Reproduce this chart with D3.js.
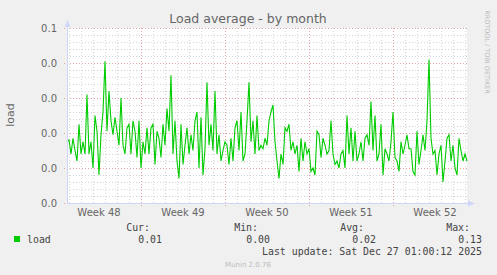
<!DOCTYPE html>
<html>
<head>
<meta charset="utf-8">
<script src="https://cdn.jsdelivr.net/npm/d3@7"></script>
<style>
body { margin: 0; background: #F0F0F0; }
text { font-family: "DejaVu Sans", sans-serif; }
.mono { font-family: "DejaVu Sans Mono", monospace; }
</style>
</head>
<body>
<div id="viz"></div>
<script>
// load samples, one every 4 hours
var loadValues = [
 0.035,0.036,0.028,0.037,0.030,0.024,0.045,0.028,0.035,0.028,0.062,0.028,0.035,0.020,0.050,0.041,0.016,0.039,0.052,0.081,
 0.041,0.064,0.047,0.039,0.049,0.041,0.033,0.060,0.033,0.028,0.043,0.045,0.028,0.047,0.041,0.026,0.047,0.020,0.035,0.028,
 0.043,0.028,0.043,0.045,0.022,0.041,0.037,0.026,0.045,0.033,
 0.054,0.041,0.073,0.028,0.047,0.024,0.014,0.045,0.022,0.033,0.043,0.028,0.039,0.030,0.047,0.052,0.020,0.049,0.016,0.031,
 0.069,0.033,0.045,0.030,0.064,0.028,0.039,0.024,0.030,0.035,0.033,0.022,0.037,0.024,0.043,0.047,0.030,0.052,0.024,0.028,
 0.047,0.069,0.035,0.047,0.028,0.050,0.030,0.033,0.031,0.037,
 0.033,0.047,0.052,0.056,0.035,0.024,0.014,0.028,0.022,0.043,0.041,0.045,0.030,0.035,0.028,0.033,0.018,0.037,0.024,0.035,
 0.028,0.031,0.018,0.020,0.016,0.041,0.039,0.026,0.037,0.033,0.028,0.030,0.047,0.028,0.022,0.024,0.020,0.028,0.030,0.020,
 0.050,0.028,0.043,0.024,0.041,0.024,0.028,0.035,0.024,0.037,
 0.039,0.033,0.058,0.030,0.050,0.024,0.028,0.045,0.016,0.031,0.028,0.024,0.035,0.052,0.026,0.024,0.018,0.035,0.028,0.033,
 0.039,0.031,0.031,0.018,0.016,0.041,0.022,0.030,0.039,0.030,0.047,0.082,0.037,0.028,0.030,0.016,0.028,0.033,0.012,0.024,
 0.037,0.039,0.024,0.033,0.020,0.016,0.037,0.030,0.024,0.028,0.024
];
var yTicks = [0, 0.02, 0.04, 0.06, 0.08, 0.1];
var legendHeads = ["Cur:", "Min:", "Avg:", "Max:"];
var legendValues = ["0.01", "0.00", "0.02", "0.13"];

var width = 497, height = 275;
var plot = {left: 67, right: 467, top: 28, bottom: 203};

var startTime = Date.UTC(2025, 10, 24, 20, 0, 0);
var stepMs = 4 * 3600 * 1000;
var endTime = startTime + 800 * 3600 * 1000;
var halfWeek = 84 * 3600 * 1000;

var svg = d3.select("#viz").append("svg")
    .attr("width", width).attr("height", height);

svg.append("rect").attr("width", width).attr("height", height).attr("fill", "#F0F0F0");

var x = d3.scaleUtc().domain([new Date(startTime), new Date(endTime)]).range([plot.left, plot.right]);
var y = d3.scaleLinear().domain([0, 0.1]).range([plot.bottom, plot.top]);

svg.append("rect")
    .attr("x", plot.left).attr("y", plot.top)
    .attr("width", plot.right - plot.left).attr("height", plot.bottom - plot.top)
    .attr("fill", "#FFFFFF");

// minor grid
var days = d3.utcDay.range(x.domain()[0], x.domain()[1]);
svg.append("g").selectAll("line").data(days).enter().append("line")
    .attr("x1", function(d){return Math.round(x(d)) + 0.5}).attr("x2", function(d){return Math.round(x(d)) + 0.5})
    .attr("y1", plot.top).attr("y2", plot.bottom)
    .attr("stroke", "#D6D6D6").attr("stroke-dasharray", "1,2");
var minorY = d3.range(0, 0.1001, 0.004);
svg.append("g").selectAll("line").data(minorY).enter().append("line")
    .attr("x1", plot.left).attr("x2", plot.right)
    .attr("y1", function(d){return Math.round(y(d)) + 0.5}).attr("y2", function(d){return Math.round(y(d)) + 0.5})
    .attr("stroke", "#D6D6D6").attr("stroke-dasharray", "1,2");

// major grid
var weeks = d3.utcMonday.range(x.domain()[0], x.domain()[1]);
svg.append("g").selectAll("line").data(weeks).enter().append("line")
    .attr("x1", function(d){return Math.round(x(d)) + 0.5}).attr("x2", function(d){return Math.round(x(d)) + 0.5})
    .attr("y1", plot.top).attr("y2", plot.bottom + 4)
    .attr("stroke", "#EBA0A0").attr("stroke-dasharray", "1,2");
svg.append("g").selectAll("line").data(yTicks).enter().append("line")
    .attr("x1", plot.left - 3).attr("x2", plot.right)
    .attr("y1", function(d){return Math.round(y(d)) + 0.5}).attr("y2", function(d){return Math.round(y(d)) + 0.5})
    .attr("stroke", "#EBA0A0").attr("stroke-dasharray", "1,2");

// data line
var line = d3.line()
    .x(function(d, i){return x(new Date(startTime + i * stepMs))})
    .y(function(d){return y(d)});
svg.append("path").datum(loadValues)
    .attr("d", line)
    .attr("fill", "none")
    .attr("stroke", "#00CC00")
    .attr("stroke-width", 1.1);

// axes with arrows
svg.append("line").attr("x1", plot.left + 0.5).attr("x2", plot.left + 0.5)
    .attr("y1", plot.bottom).attr("y2", plot.top - 4).attr("stroke", "#CFD6F8");
svg.append("line").attr("x1", plot.left).attr("x2", plot.right + 4)
    .attr("y1", plot.bottom + 0.5).attr("y2", plot.bottom + 0.5).attr("stroke", "#CFD6F8");
svg.append("path").attr("d", "M" + (plot.left - 2.5) + "," + (plot.top - 1) + "L" + (plot.left + 0.5) + "," + (plot.top - 8) + "L" + (plot.left + 3.5) + "," + (plot.top - 1) + "Z")
    .attr("fill", "#CFD6F8");
svg.append("path").attr("d", "M" + (plot.right + 1) + "," + (plot.bottom - 2.5) + "L" + (plot.right + 8) + "," + (plot.bottom + 0.5) + "L" + (plot.right + 1) + "," + (plot.bottom + 3.5) + "Z")
    .attr("fill", "#CFD6F8");

// tick labels (rrdtool truncates to one decimal)
svg.append("g").selectAll("text").data(yTicks).enter().append("text")
    .attr("x", plot.left - 10).attr("y", function(d){return y(d) + 4})
    .attr("text-anchor", "end").attr("font-size", "10px").attr("fill", "#666666")
    .text(function(d){return (Math.floor(d * 10 + 1e-9) / 10).toFixed(1)});
var fmtWeek = d3.utcFormat("%V");
var labelWeeks = d3.utcMonday.range(d3.utcMonday.offset(x.domain()[0], -1), x.domain()[1])
    .filter(function(d){var c = x(new Date(+d + halfWeek)); return c > plot.left && c < plot.right});
svg.append("g").selectAll("text").data(labelWeeks).enter().append("text")
    .attr("x", function(d){return x(new Date(+d + halfWeek))})
    .attr("y", 216).attr("text-anchor", "middle").attr("font-size", "10px").attr("fill", "#666666")
    .text(function(d){return "Week " + fmtWeek(d)});

// titles
svg.append("text").attr("x", 248).attr("y", 23).attr("text-anchor", "middle")
    .attr("font-size", "12.5px").attr("fill", "#666666").text("Load average - by month");
svg.append("text").attr("transform", "translate(14,115) rotate(-90)").attr("text-anchor", "middle")
    .attr("font-size", "11px").attr("fill", "#666666").text("load");
svg.append("text").attr("transform", "translate(485,52) rotate(90)").attr("text-anchor", "middle")
    .attr("font-size", "6.5px").attr("fill", "#BBBBBB").text("RRDTOOL / TOBI OETIKER");

// legend
svg.append("rect").attr("x", 14).attr("y", 236).attr("width", 6).attr("height", 6).attr("fill", "#00CC00");
svg.append("text").attr("class", "mono").attr("x", 27).attr("y", 243)
    .attr("font-size", "9.9px").attr("fill", "#444444").text("load");
var legendX = [150, 258, 364, 470];
svg.append("g").selectAll("text").data(legendHeads).enter().append("text")
    .attr("class", "mono").attr("x", function(d, i){return legendX[i]}).attr("y", 231)
    .attr("text-anchor", "end").attr("font-size", "9.9px").attr("fill", "#444444")
    .text(function(d){return d});
svg.append("g").selectAll("text").data(legendValues).enter().append("text")
    .attr("class", "mono").attr("x", function(d, i){return legendX[i] + 12}).attr("y", 243)
    .attr("text-anchor", "end").attr("font-size", "9.9px").attr("fill", "#444444")
    .text(function(d){return d});
svg.append("text").attr("class", "mono").attr("x", 482).attr("y", 255)
    .attr("text-anchor", "end").attr("font-size", "9.9px").attr("fill", "#444444")
    .text("Last update: Sat Dec 27 01:00:12 2025");
svg.append("text").attr("x", 248).attr("y", 267).attr("text-anchor", "middle")
    .attr("font-size", "7px").attr("fill", "#BBBBBB").text("Munin 2.0.76");
</script>
</body>
</html>
